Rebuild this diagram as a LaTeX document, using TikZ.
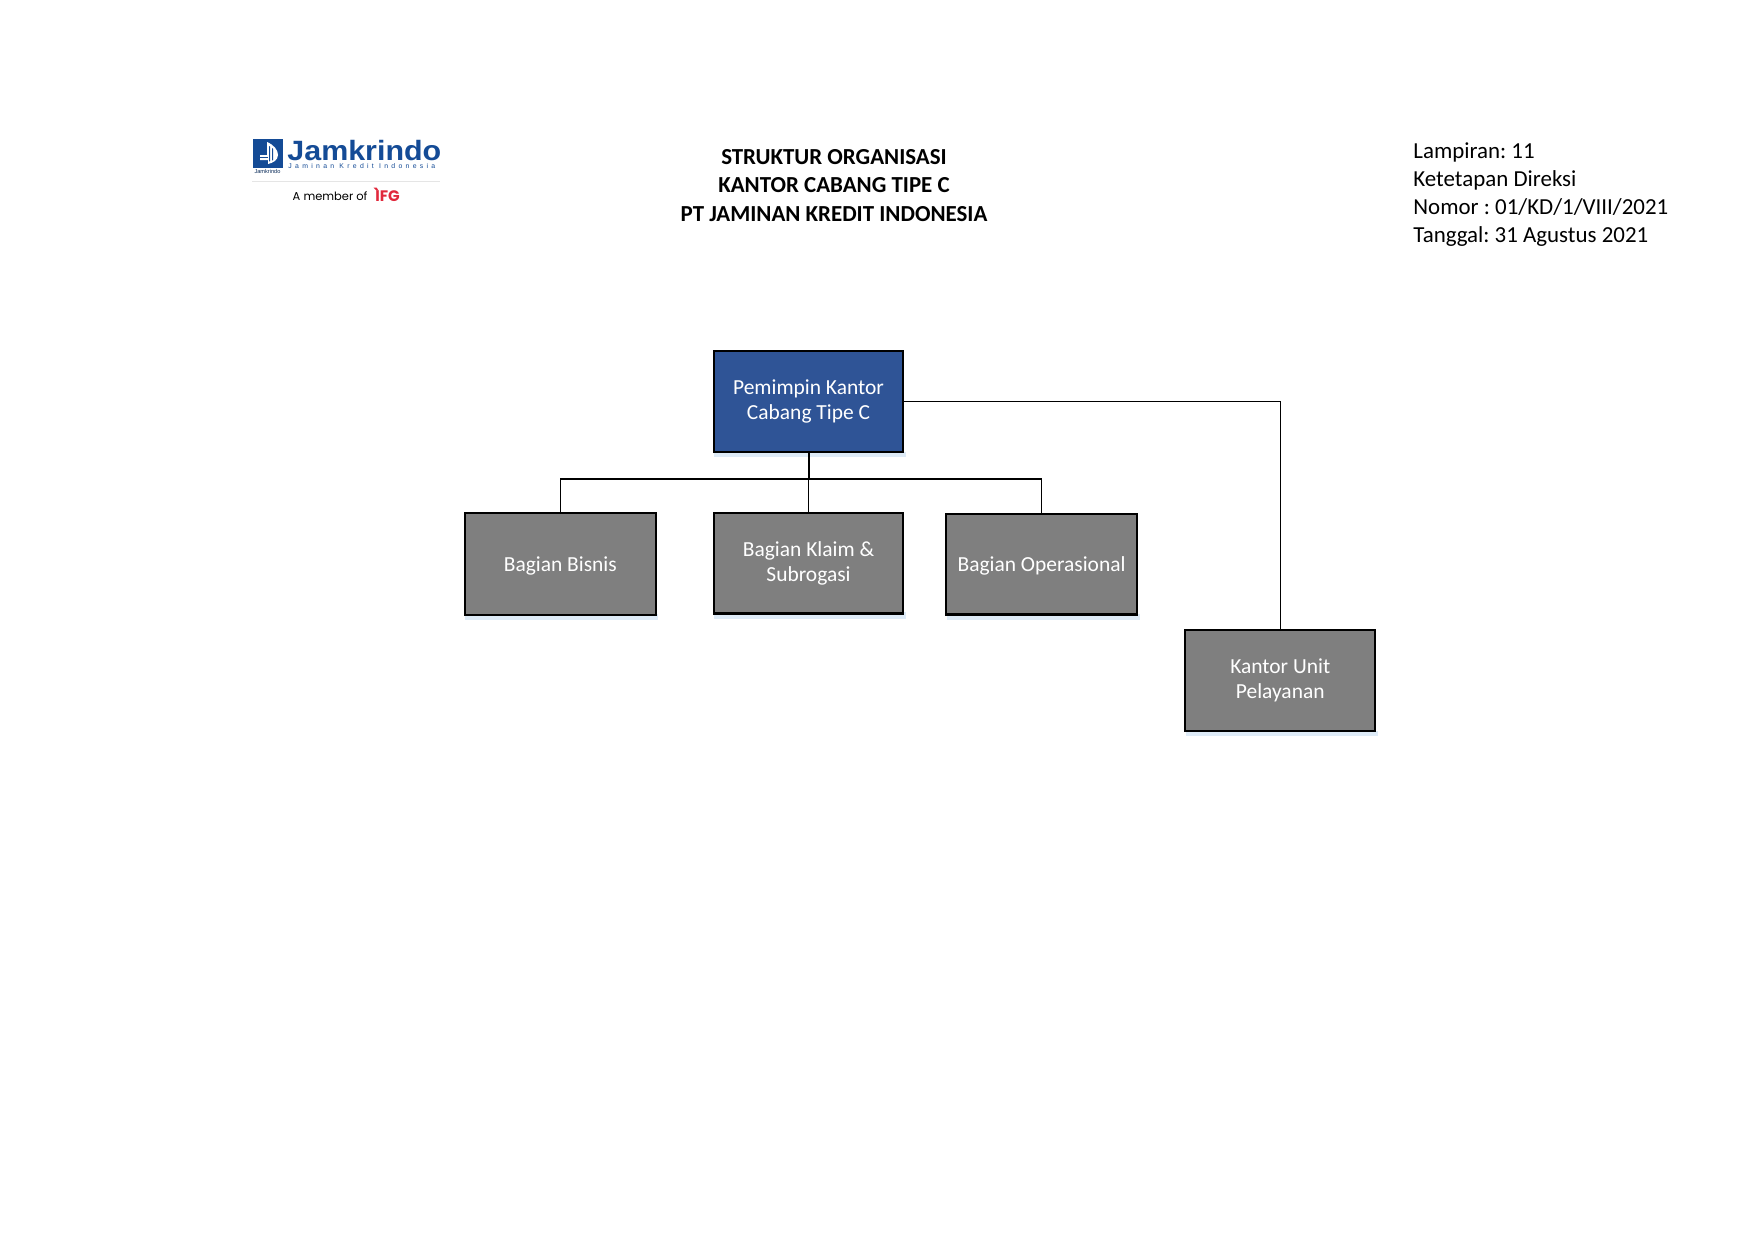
\documentclass[tikz,border=0pt]{standalone}
\usepackage{fontspec}
\setmainfont{Carlito}
\newfontfamily\logofont[FakeStretch=1.09]{Liberation Sans}
\newfontfamily\smalllogofont{Liberation Sans}
\newfontfamily\tagfont[LetterSpace=48]{Liberation Sans}
\newfontfamily\memberfont{Poppins}
\frenchspacing
\tikzset{
  x=0.48pt,y=-0.48pt,
  orgbox/.style={draw=black,line width=1pt,text=white,align=center,font=\fontsize{10.3}{12.2}\selectfont,inner sep=0pt,anchor=north west,execute at begin node={\rule{0pt}{8.8pt}}},
  graybox/.style={orgbox,fill=boxgray},
  bluebox/.style={orgbox,fill=boxblue},
  wire/.style={draw=black,line width=0.7pt},
  plain/.style={inner sep=0pt,text=black},
}
\definecolor{boxgray}{RGB}{127,127,127}
\definecolor{boxblue}{RGB}{47,84,150}
\definecolor{softblue}{RGB}{222,235,247}
\definecolor{logoblue}{RGB}{20,75,150}
\definecolor{logored}{RGB}{225,40,60}
\begin{document}
\begin{tikzpicture}
\useasboundingbox (0,0) rectangle (1754,1241);
\fill[white] (0,0) rectangle (1754,1241);
% soft shadows
\foreach \a/\b/\c/\d in {714/452/906/456.5,465/614/658/620,714/612/906/618.5,947/614/1140/620,1186/731/1378/736}
  \fill[softblue] (\a,\b) rectangle (\c,\d);
% boxes
\node[bluebox,minimum width=91pt,minimum height=48.8pt] (head) at (712.7,349.5) {Pemimpin Kantor\\Cabang Tipe C};
\node[graybox,minimum width=91.5pt,minimum height=48.8pt] (bisnis) at (464,512) {Bagian Bisnis};
\node[graybox,minimum width=91pt,minimum height=48.2pt] (klaim) at (712.7,512) {Bagian Klaim \&\\Subrogasi};
\node[graybox,minimum width=91.5pt,minimum height=48.2pt] (oper) at (945.2,513) {Bagian Operasional};
\node[graybox,minimum width=91.2pt,minimum height=48.8pt] (unit) at (1184.2,628.7) {Kantor Unit\\Pelayanan};
% connectors
\coordinate (bus) at (head.south |- 0,479);
\draw[wire,line width=1pt] (head.south) -- (bus);
\draw[wire] (bus) -- (klaim.north);
\draw[wire] (bisnis.north) |- (bus) -| (oper.north);
\draw[wire] (head.east) -| (unit.north);
% title
\node[plain,align=center,font=\fontsize{11}{13.5}\selectfont\bfseries] (title) at (834,185.5) {STRUKTUR ORGANISASI\\KANTOR CABANG TIPE C\\PT JAMINAN KREDIT INDONESIA};
\node[plain,align=left,anchor=north west,font=\fontsize{11}{13.5}\selectfont] (note) at (1413,142) {Lampiran: 11\\Ketetapan Direksi\\Nomor : 01/KD/1/VIII/2021\\Tanggal: 31 Agustus 2021};
% logo
\fill[logoblue] (252.5,139) rectangle (282.5,167.5);
\fill[white] (267,142) .. controls (274,145) and (278,150) .. (278,155) .. controls (278,160) and (273,163) .. (268,164) -- (268,160) -- (260,160) -- (260,155) -- (267,155) -- cycle;
\fill[logoblue] (269,146) -- (270.2,146.6) -- (270.2,161) -- (269,161.5) -- cycle;
\fill[logoblue] (272,148) -- (273.2,149) -- (273.2,160) -- (272,160.5) -- cycle;
\fill[logoblue] (260,157.2) rectangle (268,158.2);
\node[plain,anchor=base west,text=logoblue,font=\logofont\fontsize{13.4}{13.4}\selectfont\bfseries] (brand) at (287,160.7) {Jamkrindo};
\node[plain,anchor=base west,text=logoblue,font=\tagfont\fontsize{3.3}{3.3}\selectfont] (tag) at (288,168.7) {Jaminan Kredit Indonesia};
\node[plain,anchor=base,text=logoblue!60!black,font=\smalllogofont\fontsize{2.7}{3}\selectfont] (small) at (267.5,173.5) {Jamkrindo};
\draw[black!10,line width=0.4pt] (252,181.3) -- (440,181.3);
\node[plain,anchor=base west,font=\memberfont\fontsize{5.5}{6}\selectfont] (member) at (292.3,200) {A member of};
\node[plain,anchor=base west,text=logored,font=\memberfont\fontsize{7.3}{8}\selectfont\bfseries] (ifg) at (375,201.7) {IFG};
\fill[logored] (373.5,187.5) -- (376.5,187.5) -- (378.5,190.5) -- (376.5,190.5) -- cycle;
\end{tikzpicture}
\end{document}
